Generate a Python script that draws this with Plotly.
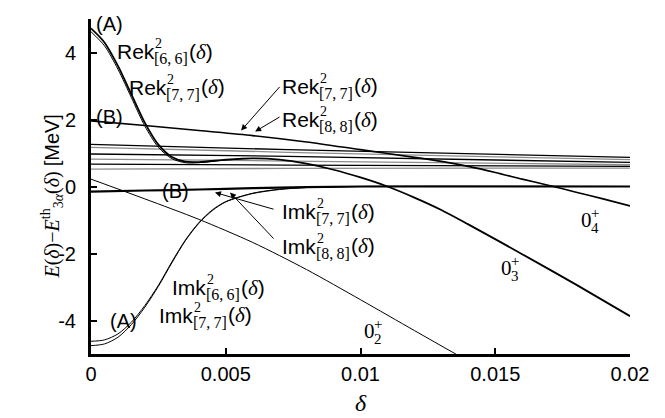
import plotly.graph_objects as go

# ---------------- data ----------------
rek66_d = [0, 0.0005, 0.001, 0.0015, 0.002, 0.0025, 0.003, 0.0035, 0.004, 0.005, 0.006, 0.007, 0.008, 0.009, 0.010, 0.011, 0.012, 0.013, 0.014, 0.016, 0.018, 0.020]
rek66_v = [4.72, 4.3, 3.6, 2.75, 1.9, 1.25, 0.88, 0.74, 0.73, 0.8, 0.84, 0.8, 0.68, 0.5, 0.27, 0.0, -0.33, -0.7, -1.13, -2.02, -2.93, -3.87]
rek77_d = [0, 0.0005, 0.001, 0.0015, 0.002, 0.0025, 0.003, 0.0035, 0.004, 0.005, 0.006]
rek77_v = [4.62, 4.2, 3.5, 2.65, 1.8, 1.17, 0.83, 0.71, 0.71, 0.79, 0.84]

b_d = [0, 0.002, 0.004, 0.006, 0.008, 0.010, 0.012, 0.013, 0.014, 0.015, 0.016, 0.017, 0.018, 0.019, 0.020]
b_v = [1.96, 1.82, 1.67, 1.52, 1.33, 1.1, 0.87, 0.75, 0.6, 0.42, 0.22, 0.03, -0.17, -0.37, -0.58]

s02_d = [0, 0.002, 0.004, 0.006, 0.008, 0.010, 0.012, 0.0134, 0.0138]
s02_v = [0.22, -0.37, -0.98, -1.67, -2.48, -3.38, -4.3, -4.94, -5.12]

imkA1_d = [0, 0.0005, 0.001, 0.0015, 0.002, 0.0025, 0.003, 0.0035, 0.004, 0.0045, 0.005, 0.006, 0.007, 0.008, 0.010, 0.020]
imkA1_v = [-4.62, -4.58, -4.4, -4.05, -3.55, -2.95, -2.25, -1.6, -1.08, -0.7, -0.45, -0.2, -0.08, -0.03, 0.0, 0.0]
imkA2_v = [-4.75, -4.7, -4.5, -4.12, -3.6, -2.98, -2.28, -1.62, -1.1, -0.72, -0.46, -0.21, -0.09, -0.03, 0.0, 0.0]

imkB_d = [0, 0.002, 0.004, 0.006, 0.008, 0.010, 0.020]
imkB_v = [-0.15, -0.12, -0.09, -0.05, -0.02, 0.0, 0.0]

cont_d = [0, 0.0073, 0.02]
cont_lines = [
    ([1.26, 1.10, 0.87], "black"),
    ([1.17, 1.02, 0.80], "#8c8c8c"),
    ([0.97, 0.90, 0.72], "black"),
    ([0.82, 0.76, 0.65], "#8c8c8c"),
    ([0.67, 0.64, 0.60], "black"),
    ([0.52, 0.54, 0.55], "#8c8c8c"),
]

x_ticks = [0, 0.005, 0.01, 0.015, 0.02]
x_tick_text = ["0", "0.005", "0.01", "0.015", "0.02"]
y_ticks = [-4, -2, 0, 2, 4]
y_tick_text = ["-4", "-2", "0", "2", "4"]

# ---------------- figure ----------------
fig = go.Figure()

def add(x, y, color="black", width=1.0):
    fig.add_trace(go.Scatter(x=x, y=y, mode="lines", line=dict(color=color, width=width, shape="spline", smoothing=0.8),
                             showlegend=False, hoverinfo="skip"))

for vals, col in cont_lines:
    add(cont_d, vals, col, 1.3)

add(b_d, b_v, "black", 1.6)
add(s02_d, s02_v, "black", 1.0)
add(imkB_d, imkB_v, "black", 2.2)
add(imkA1_d, imkA1_v, "black", 1.0)
add(imkA1_d, imkA2_v, "black", 1.0)
add(rek66_d, rek66_v, "black", 1.8)
add(rek77_d, rek77_v, "black", 1.0)

SANS = "Liberation Sans, Arial, sans-serif"
SERIF = "Liberation Serif, Times New Roman, serif"
D = "<span style='font-family:Liberation Serif'><i>δ</i></span>"
THIN = "\u2009"

def piece(txt, x, y, size, family, xshift=0, yshift=0, anchor="left"):
    fig.add_annotation(x=x, y=y, text=txt, showarrow=False, xanchor=anchor, yanchor="middle",
                       xshift=xshift, yshift=yshift, borderpad=0,
                       font=dict(family=family, size=size, color="black"))

def lab(txt, x, y, anchor="left", size=20, family=SANS):
    piece(txt, x, y, size, family, anchor=anchor)

MAIN = 21
W_MAIN = {"Rek": (0.722 + 0.556 + 0.5) * MAIN, "Imk": (0.278 + 0.833 + 0.5) * MAIN}
SUBSZ = 16
W_SUB = (0.333 + 0.5 + 0.25 + 0.2 + 0.5 + 0.333) * SUBSZ

def stacked(kind, sub, x, y):
    wm = W_MAIN[kind]
    piece(kind, x, y, MAIN, SANS)
    piece("2", x, y, 14, SERIF, xshift=wm + 1, yshift=8)
    piece("[" + sub.replace(",", "," + THIN) + "]", x, y, SUBSZ, SERIF, xshift=wm, yshift=-7)
    piece("(" + D + ")", x, y, MAIN, SANS, xshift=wm + W_SUB + 1)

def state(n, x, y):
    piece("0", x, y, 21, SERIF, xshift=-8)
    piece("+", x, y, 15, SERIF, xshift=2, yshift=7)
    piece(n, x, y, 15, SERIF, xshift=2, yshift=-8)

lab("(A)", 0.00067, 4.84, "center")
lab("(B)", 0.00067, 2.06, "center")
stacked("Rek", "6,6", 0.00093, 4.02)
stacked("Rek", "7,7", 0.00137, 2.96)
stacked("Rek", "7,7", 0.00705, 3.0)
stacked("Rek", "8,8", 0.00705, 2.0)
lab("(B)", 0.00312, -0.12, "center")
stacked("Imk", "7,7", 0.00705, -0.76)
stacked("Imk", "8,8", 0.00705, -1.78)
stacked("Imk", "6,6", 0.00297, -3.02)
stacked("Imk", "7,7", 0.00249, -3.84)
lab("(A)", 0.00122, -4.0, "center")
state("2", 0.01039, -4.3)
state("3", 0.01547, -2.42)
state("4", 0.01844, -0.99)

def arrow(xh, yh, xt, yt):
    fig.add_annotation(x=xh, y=yh, ax=xt, ay=yt, xref="x", yref="y", axref="x", ayref="y",
                       text="", showarrow=True, arrowhead=2, arrowsize=1.2, arrowwidth=1, arrowcolor="black")

arrow(0.00557, 1.67, 0.00705, 3.02)
arrow(0.00609, 1.64, 0.00705, 2.1)
arrow(0.00460, -0.18, 0.00683, -0.69)
arrow(0.00516, -0.18, 0.00683, -1.6)

fig.add_annotation(xref="paper", yref="paper", x=-0.102, y=0.47, textangle=-90, showarrow=False,
                   text="<i>E</i>(<i>δ</i>)−<i>E</i><sup>th</sup><sub>3<i>α</i></sub>(<i>δ</i>) <span style='font-family:Liberation Sans'>[MeV]</span>",
                   font=dict(family=SERIF, size=20, color="black"))
fig.add_annotation(xref="paper", yref="paper", x=0.5, y=-0.19, showarrow=False,
                   text="<i>δ</i>", font=dict(family=SERIF, size=24, color="black"))

axis_common = dict(showline=True, linecolor="black", linewidth=3, ticks="inside", ticklen=6,
                   tickwidth=2, tickcolor="black", showgrid=False, zeroline=False,
                   tickfont=dict(family=SANS, size=20, color="black"))
fig.update_xaxes(range=[0, 0.02], tickvals=x_ticks, ticktext=x_tick_text, **axis_common)
fig.update_yaxes(range=[-5, 5], tickvals=y_ticks, ticktext=y_tick_text, ticklabelstandoff=8, **axis_common)

fig.update_layout(width=665, height=418, margin=dict(l=83, r=43, t=11, b=72),
                  plot_bgcolor="white", paper_bgcolor="white", showlegend=False)

fig.write_html("out.html")
